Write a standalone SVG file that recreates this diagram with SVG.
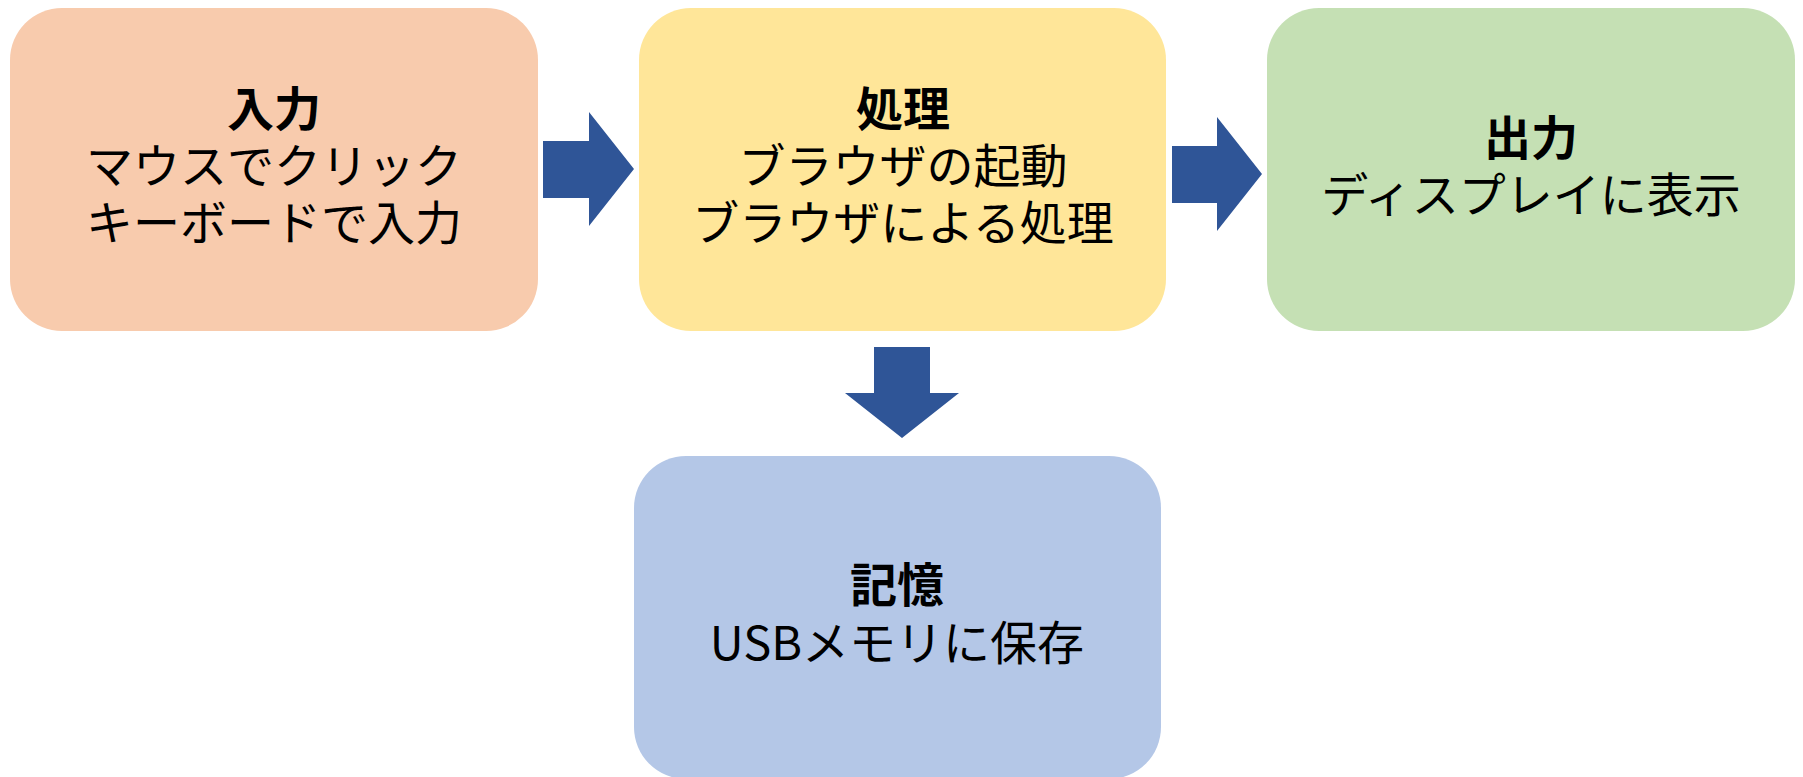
<svg xmlns="http://www.w3.org/2000/svg" width="1803" height="777" viewBox="0 0 1803 777">
<style>
.t{font-family:"Noto Sans CJK JP","Noto Sans",sans-serif;font-size:47px;fill:#000;text-anchor:middle}
.b{font-weight:700}
.arr{fill:#2F5597}
</style>
<rect width="1803" height="777" fill="#fff"/>
<g id="node-input">
<rect x="10" y="8" width="528" height="323" rx="52" ry="52" fill="#F8CBAD"/>
<text class="t b" x="274" y="126">入力</text>
<text class="t" x="274" y="183">マウスでクリック</text>
<text class="t" x="274" y="240">キーボードで入力</text>
</g>
<g id="node-process">
<rect x="639" y="8" width="527" height="323" rx="52" ry="52" fill="#FFE699"/>
<text class="t b" x="903" y="126">処理</text>
<text class="t" x="903" y="183">ブラウザの起動</text>
<text class="t" x="903" y="240">ブラウザによる処理</text>
</g>
<g id="node-output">
<rect x="1267" y="8" width="528" height="323" rx="52" ry="52" fill="#C5E0B4"/>
<text class="t b" x="1531" y="155">出力</text>
<text class="t" x="1531" y="212">ディスプレイに表示</text>
</g>
<g id="node-storage">
<rect x="634" y="456" width="527" height="323" rx="52" ry="52" fill="#B4C7E7"/>
<text class="t b" x="897" y="602">記憶</text>
<text class="t" x="897" y="660">USBメモリに保存</text>
</g>
<g id="connectors">
<polygon class="arr" points="543,141 589,141 589,112 634,169 589,226 589,198 543,198"/>
<polygon class="arr" points="1172,146 1217,146 1217,117 1262,174 1217,231 1217,203 1172,203"/>
<polygon class="arr" points="874,347 930,347 930,393 959,393 902,438 845,393 874,393"/>
</g>
</svg>
